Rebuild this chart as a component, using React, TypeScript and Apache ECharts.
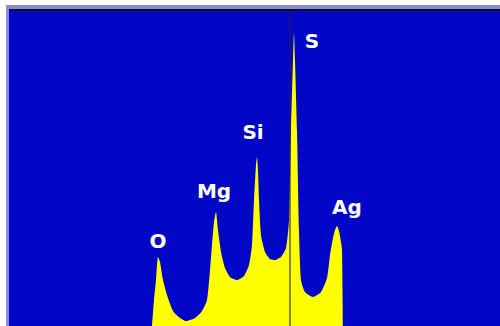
import React, { useEffect, useRef } from "react";
import * as echarts from "echarts";

// Spectrum (channel, counts)
const channels = [143, 145, 147, 149, 151, 154, 158, 164, 171, 177, 186, 193, 198, 201, 203, 205, 207, 209, 212, 216, 221, 228, 235, 240, 243, 245, 247, 248, 249, 250, 252, 256, 261, 266, 272, 277, 280, 282, 284, 285, 286, 288, 290, 292, 296, 304, 312, 318, 321, 324, 326, 328, 330, 332, 333, 334];
const counts = [0, 26, 46, 69, 64, 46, 31, 15, 8, 5, 8, 15, 26, 56, 81, 104, 114, 96, 74, 58, 49, 46, 50, 61, 81, 126, 161, 169, 156, 126, 91, 74, 67, 66, 69, 78, 106, 196, 266, 293, 266, 196, 96, 46, 34, 29, 34, 48, 71, 88, 96, 100, 95, 84, 76, 0];

// Element peaks
const elements = ["O", "Mg", "Si", "S", "Ag"];
const peakChannels = [149, 207, 248, 285, 328];
const peakCounts = [69, 114, 169, 293, 100];
const labelOffsets = [[0, -16], [-2, -21], [-4, -25], [18, 8], [10, -19]];

const markerChannel = 281;

export default function App() {
  const ref = useRef<HTMLDivElement>(null);
  useEffect(() => {
    if (!ref.current) return;
    const chart = echarts.init(ref.current, null, { renderer: "svg" });
    const spectrum = channels.map((c, i) => [c, counts[i]]);
    chart.setOption({
      animation: false,
      backgroundColor: "#ffffff",
      grid: {
        left: 9,
        right: 0,
        top: 11,
        bottom: 0,
        show: true,
        backgroundColor: "#0206c6",
        borderWidth: 0,
      },
      graphic: [
        { type: "rect", shape: { x: 6, y: 5, width: 494, height: 4 }, style: { fill: "#8c8cd6" }, z: 10 },
        { type: "rect", shape: { x: 6, y: 5, width: 3, height: 321 }, style: { fill: "#8c8cd6" }, z: 10 },
        { type: "rect", shape: { x: 9, y: 9, width: 491, height: 2 }, style: { fill: "#101018" }, z: 10 },
      ],
      xAxis: {
        type: "value",
        min: 0,
        max: 491,
        show: false,
      },
      yAxis: {
        type: "value",
        min: 0,
        max: 315,
        show: false,
      },
      series: [
        {
          type: "line",
          data: spectrum,
          smooth: 0.2,
          symbol: "none",
          lineStyle: { width: 0, color: "#ffff00" },
          areaStyle: { color: "#ffff00", opacity: 1 },
          markLine: {
            silent: true,
            symbol: "none",
            label: { show: false },
            lineStyle: { color: "rgba(40,30,80,0.55)", width: 2, type: "solid" },
            data: [{ xAxis: markerChannel }],
          },
        },
        {
          type: "scatter",
          symbolSize: 0,
          itemStyle: { opacity: 1 },
          data: elements.map((n, i) => ({
            value: [peakChannels[i], peakCounts[i]],
            name: n,
            label: { offset: labelOffsets[i] },
          })),
          label: {
            show: true,
            position: "inside",
            formatter: (p: any) => p.name,
            color: "#ffffff",
            opacity: 1,
            fontFamily: "DejaVu Sans",
            fontWeight: "bold",
            fontSize: 20,
            align: "center",
            verticalAlign: "middle",
          },
        },
      ],
    });
    return () => chart.dispose();
  }, []);
  return (
    <div
      ref={ref}
      style={{ position: "fixed", left: 0, top: 0, width: 500, height: 326 }}
    />
  );
}
